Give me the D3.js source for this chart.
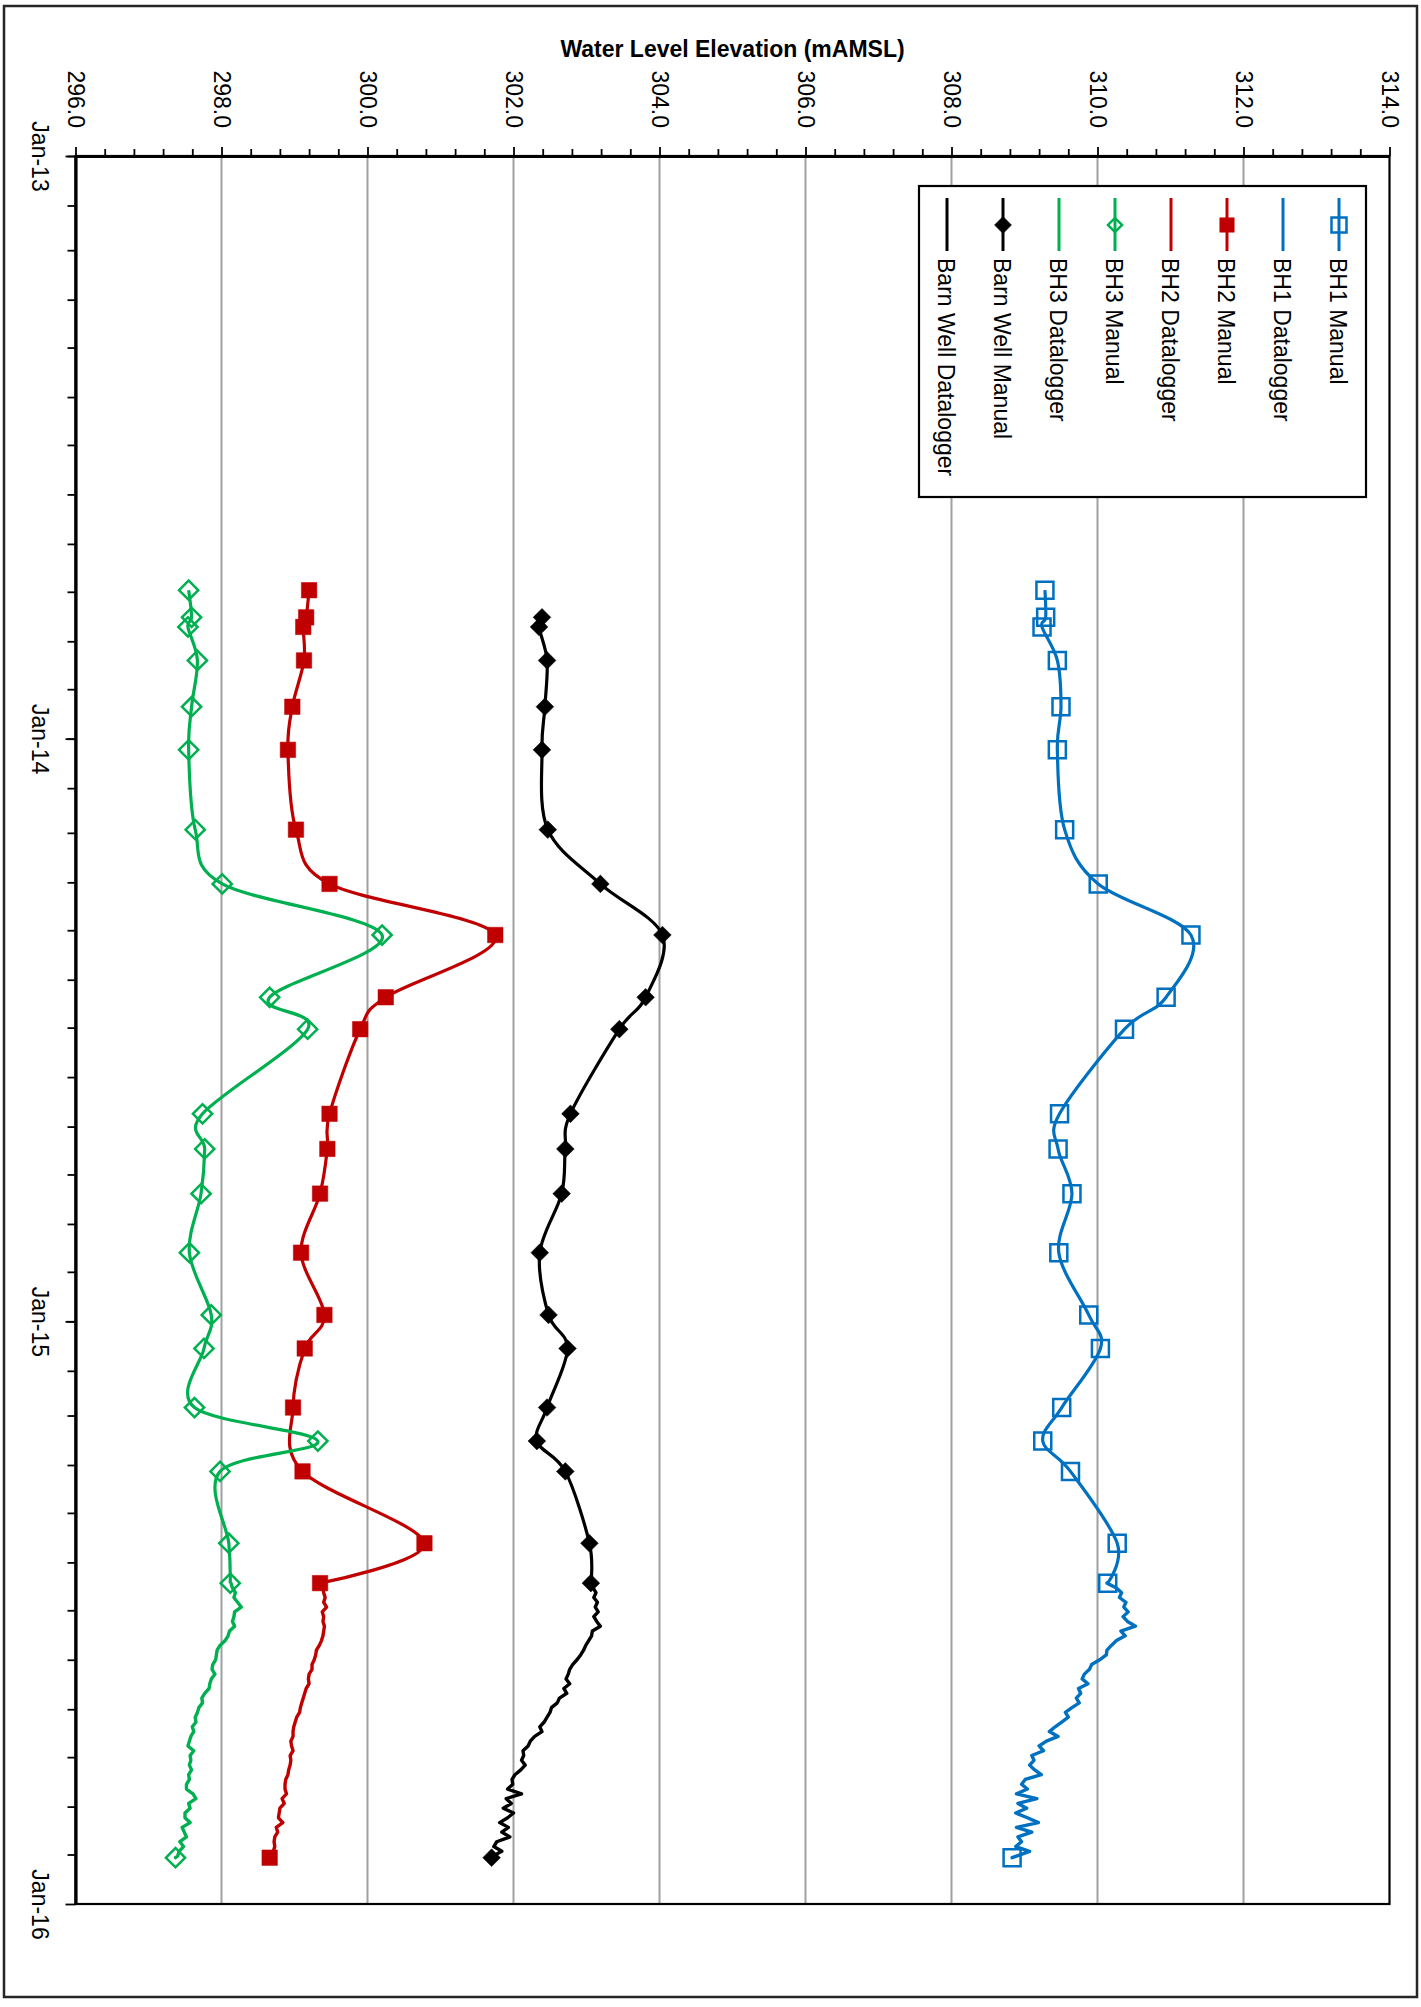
<!DOCTYPE html>
<html>
<head>
<meta charset="utf-8">
<script src="https://cdn.jsdelivr.net/npm/d3@7"></script>
<style>
  body { margin: 0; background: #fff; }
  svg { display: block; }
  text { font-family: "Liberation Sans", Arial, sans-serif; fill: #000; }
</style>
</head>
<body>
<svg id="chart" width="1421" height="2007"></svg>
<script>
// ---- Manual dip readings (water level elevation, mAMSL) ----
const manualDates = ["2013-09-30","2013-10-17","2013-10-23","2013-11-13","2013-12-12","2014-01-08",
  "2014-02-27","2014-04-02","2014-05-04","2014-06-12","2014-07-02","2014-08-24","2014-09-15",
  "2014-10-13","2014-11-19","2014-12-28","2015-01-18","2015-02-24","2015-03-17","2015-04-05",
  "2015-05-20","2015-06-14","2015-12-03"];
const bh1Manual = [309.28,309.29,309.24,309.45,309.50,309.45,309.55,310.01,311.28,310.94,310.37,
  309.48,309.46,309.65,309.47,309.88,310.04,309.51,309.25,309.63,310.27,310.14,308.83];
const bh2Manual = [299.20,299.16,299.12,299.13,298.97,298.91,299.02,299.48,301.75,300.25,299.90,
  299.48,299.45,299.35,299.09,299.41,299.14,298.98,null,299.11,300.78,299.35,298.66];
const bh3Manual = [297.55,297.59,297.54,297.67,297.59,297.55,297.64,298.01,300.20,298.66,299.18,
  297.74,297.77,297.72,297.56,297.86,297.76,297.63,299.32,297.98,298.10,298.12,297.37];
const barnManual = [null,302.39,302.35,302.46,302.43,302.39,302.47,303.19,304.04,303.81,303.45,
  302.78,302.71,302.66,302.36,302.48,302.74,302.46,302.32,302.71,303.04,303.06,301.70];

// ---- Datalogger readings ----
const loggerDates = ["2015-06-14","2015-06-17","2015-06-20","2015-06-23","2015-06-26","2015-06-29",
  "2015-07-02","2015-07-05","2015-07-08","2015-07-11","2015-07-14","2015-07-17","2015-07-20",
  "2015-07-23","2015-07-26","2015-07-29","2015-08-01","2015-08-04","2015-08-07","2015-08-10",
  "2015-08-13","2015-08-16","2015-08-19","2015-08-22","2015-08-25","2015-08-28","2015-08-31",
  "2015-09-03","2015-09-06","2015-09-09","2015-09-12","2015-09-15","2015-09-18","2015-09-21",
  "2015-09-24","2015-09-27","2015-09-30","2015-10-03","2015-10-06","2015-10-09","2015-10-12",
  "2015-10-15","2015-10-18","2015-10-21","2015-10-24","2015-10-27","2015-10-30","2015-11-02",
  "2015-11-05","2015-11-08","2015-11-11","2015-11-14","2015-11-17","2015-11-20","2015-11-23",
  "2015-11-26","2015-11-29","2015-12-02","2015-12-03"];
const bh1Logger = [310.13,310.26,310.33,310.30,310.39,310.36,310.42,310.35,310.41,310.52,
  310.32,310.38,310.26,310.19,310.13,310.12,310.03,309.92,309.89,309.82,
  309.79,309.87,309.74,309.77,309.71,309.75,309.65,309.56,309.60,309.51,
  309.42,309.34,309.46,309.30,309.20,309.26,309.10,309.13,309.07,309.14,
  309.23,309.01,308.96,309.04,308.89,309.17,308.91,309.03,308.88,309.04,
  309.19,308.89,309.10,308.91,308.96,308.88,309.07,308.89,308.83];
const bh2Logger = [299.35,299.39,299.40,299.42,299.40,299.44,299.38,299.40,299.39,299.41,
  299.40,299.39,299.37,299.34,299.30,299.29,299.27,299.24,299.24,299.20,
  299.19,299.20,299.16,299.14,299.12,299.10,299.08,299.07,299.03,299.01,
  298.99,298.98,298.98,298.95,298.96,298.98,298.94,298.95,298.94,298.92,
  298.91,298.88,298.87,298.87,298.89,298.83,298.86,298.80,298.79,298.78,
  298.84,298.75,298.77,298.73,298.72,298.73,298.71,298.70,298.66];
const bh3Logger = [298.13,298.15,298.19,298.17,298.22,298.27,298.18,298.17,298.15,298.18,
  298.11,298.09,298.05,297.98,297.94,297.93,297.92,297.88,297.87,297.91,
  297.86,297.84,297.83,297.77,297.73,297.74,297.69,297.67,297.64,297.65,
  297.60,297.62,297.58,297.56,297.54,297.62,297.57,297.58,297.56,297.59,
  297.55,297.56,297.52,297.52,297.61,297.65,297.55,297.57,297.50,297.50,
  297.57,297.46,297.49,297.52,297.43,297.48,297.42,297.40,297.37];
const barnLogger = [303.06,303.09,303.13,303.10,303.15,303.12,303.16,303.10,303.14,303.19,
  303.08,303.07,303.03,302.99,302.96,302.92,302.87,302.81,302.77,302.75,
  302.72,302.77,302.69,302.73,302.63,302.60,302.52,302.50,302.46,302.42,
  302.36,302.39,302.29,302.23,302.20,302.13,302.14,302.11,302.16,302.10,
  302.02,301.98,301.99,301.92,302.11,301.90,301.97,301.86,302.00,301.92,
  301.81,301.93,301.84,301.95,301.77,301.73,301.84,301.72,301.70];

// ---- Axis settings ----
const valueDomain = [296, 314];
const valueTicks = [296, 298, 300, 302, 304, 306, 308, 310, 312, 314];
const dateTicks = ["2013-01-01", "2014-01-01", "2015-01-01", "2016-01-01"];
const axisTitle = "Water Level Elevation (mAMSL)";

const parse = d3.utcParse("%Y-%m-%d");
const svg = d3.select("#chart");
const plot = { left: 75.5, right: 1389.5, top: 156, bottom: 1904 };

// Values run across the page, dates run down it.
const x = d3.scaleLinear().domain(valueDomain).range([plot.left, plot.right]);
const y = d3.scaleUtc().domain([parse(dateTicks[0]), parse(dateTicks[3])]).range([plot.top, plot.bottom]);

const series = [
  { name: "BH1", color: "#0070C0", manual: bh1Manual, logger: bh1Logger, shape: "square", filled: false, size: 17, legendSize: 15 },
  { name: "BH2", color: "#C00000", manual: bh2Manual, logger: bh2Logger, shape: "square", filled: true, size: 15.5, legendSize: 14.5 },
  { name: "BH3", color: "#00B050", manual: bh3Manual, logger: bh3Logger, shape: "diamond", filled: false, size: 13.6, legendSize: 10 },
  { name: "Barn Well", color: "#000000", manual: barnManual, logger: barnLogger, shape: "diamond", filled: true, size: 12.5, legendSize: 12 }
];

function markerPath(side) {
  return d3.symbol(d3.symbolSquare, side * side)();
}
function drawMarker(g, s, cx, cy, side) {
  g.append("path")
    .attr("d", markerPath(side))
    .attr("transform", `translate(${cx},${cy})` + (s.shape === "diamond" ? " rotate(45)" : ""))
    .attr("fill", s.filled ? s.color : "none")
    .attr("stroke", s.color)
    .attr("stroke-width", s.filled ? 0.5 : 2.5);
}

// Outer frame
svg.append("rect").attr("x", 4).attr("y", 6).attr("width", 1413).attr("height", 1991)
  .attr("fill", "#fff").attr("stroke", "#262626").attr("stroke-width", 2.5);

// Title
svg.append("text").attr("x", (plot.left + plot.right) / 2).attr("y", 57)
  .attr("text-anchor", "middle").style("font-size", "23px").style("font-weight", "bold")
  .text(axisTitle);

// Gridlines
svg.append("g").selectAll("line")
  .data(valueTicks.slice(1, -1))
  .join("line")
  .attr("x1", d => x(d)).attr("x2", d => x(d))
  .attr("y1", plot.top).attr("y2", plot.bottom)
  .attr("stroke", "#A0A0A0").attr("stroke-width", 2);

// Plot area frame
svg.append("rect").attr("x", plot.left).attr("y", plot.top)
  .attr("width", plot.right - plot.left).attr("height", plot.bottom - plot.top)
  .attr("fill", "none").attr("stroke", "#000").attr("stroke-width", 2.2);

// Value axis (top)
const minorValues = d3.range(0, 46).map(i => valueDomain[0] + i * 0.4).filter(v => Math.abs(v / 2 - Math.round(v / 2)) > 0.01);
svg.append("g").attr("transform", `translate(0,${plot.top})`)
  .call(d3.axisTop(x).tickValues(minorValues).tickSize(7).tickSizeOuter(0).tickFormat(""))
  .call(g => g.select(".domain").remove())
  .call(g => g.selectAll(".tick line").attr("stroke-width", 1.8));
const topAxis = svg.append("g").attr("transform", `translate(0,${plot.top})`)
  .call(d3.axisTop(x).tickValues(valueTicks).tickSize(9).tickSizeOuter(0).tickFormat(d3.format(".1f")));
topAxis.select(".domain").attr("stroke-width", 3.2);
topAxis.selectAll(".tick line").attr("stroke-width", 1.8);
topAxis.selectAll(".tick text")
  .attr("x", null).attr("y", null).attr("dy", null)
  .attr("transform", "translate(-8,-28) rotate(90)")
  .attr("text-anchor", "end")
  .style("font-size", "23px").style("font-family", "'Liberation Sans', Arial, sans-serif");

// Date axis (left)
const months = d3.utcMonth.range(parse(dateTicks[0]), parse(dateTicks[3]));
svg.append("g").attr("transform", `translate(${plot.left},0)`)
  .call(d3.axisLeft(y).tickValues(months).tickSize(8).tickSizeOuter(0).tickFormat(""))
  .call(g => g.select(".domain").remove())
  .call(g => g.selectAll(".tick line").attr("stroke-width", 1.8));
const leftAxis = svg.append("g").attr("transform", `translate(${plot.left},0)`)
  .call(d3.axisLeft(y).tickValues(dateTicks.map(parse)).tickSize(10).tickSizeOuter(0)
    .tickFormat(d3.utcFormat("%b-%y")));
leftAxis.select(".domain").attr("stroke-width", 3.2);
leftAxis.selectAll(".tick line").attr("stroke-width", 1.8);
leftAxis.selectAll(".tick text")
  .attr("x", null).attr("y", null).attr("dy", null)
  .attr("transform", "translate(-43.5,0) rotate(90)")
  .attr("text-anchor", "middle")
  .style("font-size", "23px").style("font-family", "'Liberation Sans', Arial, sans-serif");

// Series
const smooth = d3.line().x(d => x(d.v)).y(d => y(d.date)).curve(d3.curveCardinal.tension(0));
const straight = d3.line().x(d => x(d.v)).y(d => y(d.date)).curve(d3.curveLinear);
const dataG = svg.append("g");

series.forEach(s => {
  const manualPts = manualDates.map((d, i) => ({ date: parse(d), v: s.manual[i] })).filter(p => p.v != null);
  const joined = manualPts.slice(0, -1);
  const loggerPts = loggerDates.map((d, i) => ({ date: parse(d), v: s.logger[i] }));
  const g = dataG.append("g");
  // manual readings: smoothed line with markers
  g.append("path").attr("d", smooth(joined))
    .attr("fill", "none").attr("stroke", s.color).attr("stroke-width", 3.2)
    .attr("stroke-linejoin", "round");
  manualPts.forEach(p => drawMarker(g, s, x(p.v), y(p.date), s.size));
  // datalogger record
  g.append("path").attr("d", straight(loggerPts))
    .attr("fill", "none").attr("stroke", s.color).attr("stroke-width", 3.4)
    .attr("stroke-linejoin", "round").attr("stroke-linecap", "round");
});

// Legend
const legendItems = [];
series.forEach(s => {
  legendItems.push({ label: s.name + " Manual", s, marker: true });
  legendItems.push({ label: s.name + " Datalogger", s, marker: false });
});
const lg = svg.append("g");
lg.append("rect").attr("x", 919).attr("y", 186).attr("width", 447).attr("height", 311)
  .attr("fill", "#fff").attr("stroke", "#000").attr("stroke-width", 2.2);
legendItems.forEach((it, i) => {
  const ex = 1339 - i * 56;
  lg.append("line").attr("x1", ex).attr("x2", ex).attr("y1", 198).attr("y2", 251)
    .attr("stroke", it.s.color).attr("stroke-width", 3);
  if (it.marker) drawMarker(lg, it.s, ex, 225, it.s.legendSize);
  lg.append("text").attr("transform", `translate(${ex - 9},258) rotate(90)`)
    .attr("text-anchor", "start").style("font-size", "23px")
    .text(it.label);
});
</script>
</body>
</html>
